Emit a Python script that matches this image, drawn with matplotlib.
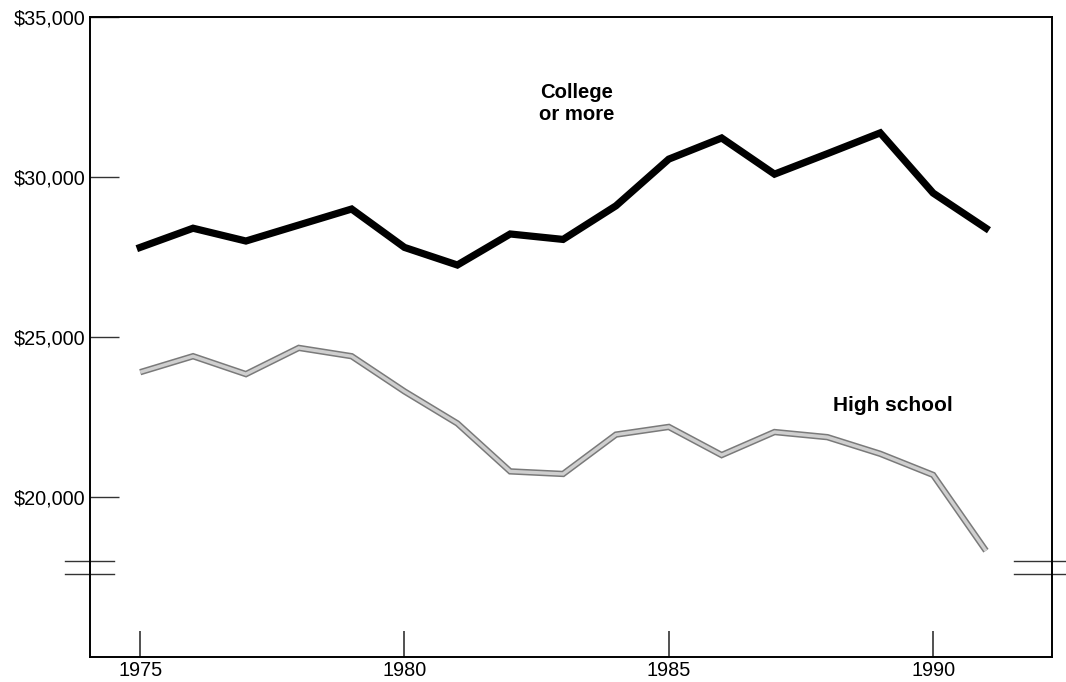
import matplotlib
matplotlib.use("Agg")
import matplotlib.pyplot as plt

years = list(range(1975, 1992))
college = [27800, 28400, 28000, 28500, 29000, 27800, 27250, 28220, 28050,
           29100, 30560, 31220, 30090, 30730, 31380, 29500, 28400]
high_school = [23900, 24400, 23840, 24660, 24400, 23300, 22300, 20800, 20720,
               21950, 22190, 21310, 22030, 21870, 21350, 20690, 18320]

y_ticks = [20000, 25000, 30000, 35000]
y_tick_labels = ["$20,000", "$25,000", "$30,000", "$35,000"]
x_ticks = [1975, 1980, 1985, 1990]


def main():
    plt.rcParams["font.family"] = ["Liberation Sans", "DejaVu Sans"]
    fig = plt.figure(figsize=(10.66, 6.82), dpi=100)
    ax = fig.add_axes([0.0844, 0.0367, 0.9025, 0.9383])

    ax.plot(years, college, color="black", lw=5.2, solid_joinstyle="miter",
            solid_capstyle="projecting", zorder=3)
    # grey line with a darker rim, like the printed hatching
    ax.plot(years, high_school, color="#7a7a7a", lw=4.6, solid_joinstyle="miter",
            solid_capstyle="butt", zorder=3)
    ax.plot(years, high_school, color="#cfcfcf", lw=2.4, solid_joinstyle="miter",
            solid_capstyle="butt", zorder=4)

    ax.set_xlim(1974.05, 1992.25)
    ax.set_ylim(15000, 35000)

    ax.set_yticks(y_ticks)
    ax.set_yticklabels(y_tick_labels, fontsize=14.3)
    ax.set_xticks(x_ticks)
    ax.set_xticklabels([str(x) for x in x_ticks], fontsize=14.3)
    ax.tick_params(axis="y", direction="in", length=21, width=1.0, color="#333333", pad=3)
    ax.tick_params(axis="x", direction="in", length=19, width=1.1, color="#222222", pad=3)

    for s in ax.spines.values():
        s.set_linewidth(1.4)

    ax.text(1983.25, 32300, "College\nor more", ha="center", va="center",
            fontsize=14.6, fontweight="bold", linespacing=1.15)
    ax.text(1988.1, 22850, "High school", ha="left", va="center",
            fontsize=15, fontweight="bold")

    # axis break marks on both sides
    for yb in (0.1496, 0.1293):
        ax.plot([-0.026, 0.025], [yb, yb], transform=ax.transAxes, color="#333333",
                lw=1.0, clip_on=False)
        ax.plot([0.9605, 1.015], [yb, yb], transform=ax.transAxes, color="#333333",
                lw=1.0, clip_on=False)

    fig.savefig("out.png", dpi=100)


if __name__ == "__main__":
    main()
